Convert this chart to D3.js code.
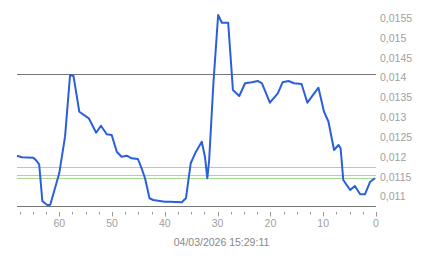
<!DOCTYPE html>
<html>
<head>
<meta charset="utf-8">
<script src="https://cdn.jsdelivr.net/npm/d3@7"></script>
<style>
    body { margin: 0; background: #fff; }
    svg { display: block; }
</style>
</head>
<body>
<div id="chart"></div>
<script>
// seconds ago (x) and value (y)
var ago = [68.0, 67.1, 64.9, 64.45, 63.8, 63.2, 62.7, 62.2, 61.7, 60.9, 60.0, 58.9, 57.95, 57.3, 56.2, 54.4,
    53.0, 52.1, 51.0, 50.06, 49.1, 48.2, 47.2, 46.3, 45.1, 44.4, 43.75, 42.9, 42.2, 40.0, 39.0, 36.8,
    36.0, 35.1, 34.1, 33.0, 32.4, 31.95, 31.6, 30.8, 29.9, 29.2, 28.0, 27.1, 25.9, 24.8, 23.5, 22.4,
    21.6, 20.1, 18.6, 17.7, 16.6, 15.5, 14.1, 13.0, 10.9, 9.85, 9.0, 7.95, 7.1, 6.7, 6.2, 4.9,
    4.0, 3.0, 2.1, 1.1, 0.2];
var values = [0.011942, 0.011902, 0.011892, 0.011834, 0.011725, 0.010801, 0.010743, 0.010693, 0.010708, 0.011078, 0.011499, 0.012421, 0.013975, 0.01395, 0.013050, 0.012884,
    0.012521, 0.012698, 0.012481, 0.012463, 0.012043, 0.011917, 0.011942, 0.011877, 0.011859, 0.011625, 0.011373, 0.01087, 0.010826, 0.010783, 0.010783, 0.010768,
    0.010869, 0.011751, 0.012043, 0.012295, 0.011917, 0.011373, 0.011834, 0.013766, 0.015486, 0.015292, 0.015292, 0.013597, 0.013446, 0.013766, 0.013791, 0.013824,
    0.013766, 0.013277, 0.013514, 0.013791, 0.013824, 0.013766, 0.013748, 0.013277, 0.013655, 0.013050, 0.012798, 0.012086, 0.012212, 0.012128, 0.01133, 0.011078,
    0.011179, 0.01097, 0.01097, 0.011287, 0.011373];

var refLevels = [0.014, 0.011669, 0.011467, 0.011374];
var refColors = ["#777777", "#e9c068", "#a6da92", "#a6da92"];

var yTicks = [0.011, 0.0115, 0.012, 0.0125, 0.013, 0.0135, 0.014, 0.0145, 0.015, 0.0155];
var xMajor = [60, 50, 40, 30, 20, 10, 0];
var xMinor = d3.range(0, 68, 2.5);
var stamp = "04/03/2026 15:29:11";

var W = 443, H = 258;
var svg = d3.select("#chart").append("svg").attr("width", W).attr("height", H)
    .style("font-family", "'Liberation Sans', Arial, sans-serif");

var x = d3.scaleLinear().domain([68, 0]).range([17, 376]);
var y = d3.scaleLinear().domain([0.010675, 0.0155]).range([206, 14.45]);

// reference lines
svg.selectAll(".ref").data(refLevels).enter().append("line")
    .attr("x1", x(68)).attr("x2", x(0))
    .attr("y1", function (d) { return Math.round(y(d)) + 0.5; })
    .attr("y2", function (d) { return Math.round(y(d)) + 0.5; })
    .attr("stroke", function (d, i) { return refColors[i]; })
    .attr("stroke-width", 1);

// bottom baseline
svg.append("line").attr("x1", x(68)).attr("x2", x(0))
    .attr("y1", 206.5).attr("y2", 206.5).attr("stroke", "#777").attr("stroke-width", 1);

// x ticks
svg.selectAll(".minor").data(xMinor).enter().append("line")
    .attr("x1", function (d) { return Math.round(x(d)) + 0.5; })
    .attr("x2", function (d) { return Math.round(x(d)) + 0.5; })
    .attr("y1", 212).attr("y2", function (d) { return d % 10 === 0 ? 216.5 : 214.5; })
    .attr("stroke", "#999");

svg.selectAll(".xlab").data(xMajor).enter().append("text")
    .attr("x", function (d) { return x(d); }).attr("y", 227)
    .attr("text-anchor", "middle").attr("font-size", "10.5px").attr("fill", "#a0a0a0")
    .text(function (d) { return d; });

// y labels
svg.selectAll(".ylab").data(yTicks).enter().append("text")
    .attr("x", 380).attr("y", function (d) { return y(d) + 7.4; })
    .attr("font-size", "10.5px").attr("fill", "#a0a0a0")
    .text(function (d) { return String(d).replace(".", ","); });

svg.append("text").attr("x", W / 2).attr("y", 245.5)
    .attr("text-anchor", "middle").attr("font-size", "10.5px").attr("fill", "#888")
    .text(stamp);

// data line
var pts = ago.map(function (d, i) { return [d, values[i]]; });
svg.append("path").datum(pts)
    .attr("fill", "none").attr("stroke", "#2a5fdc").attr("stroke-width", 2)
    .attr("stroke-linejoin", "round")
    .attr("d", d3.line().x(function (d) { return x(d[0]); }).y(function (d) { return y(d[1]); }));
</script>
</body>
</html>
